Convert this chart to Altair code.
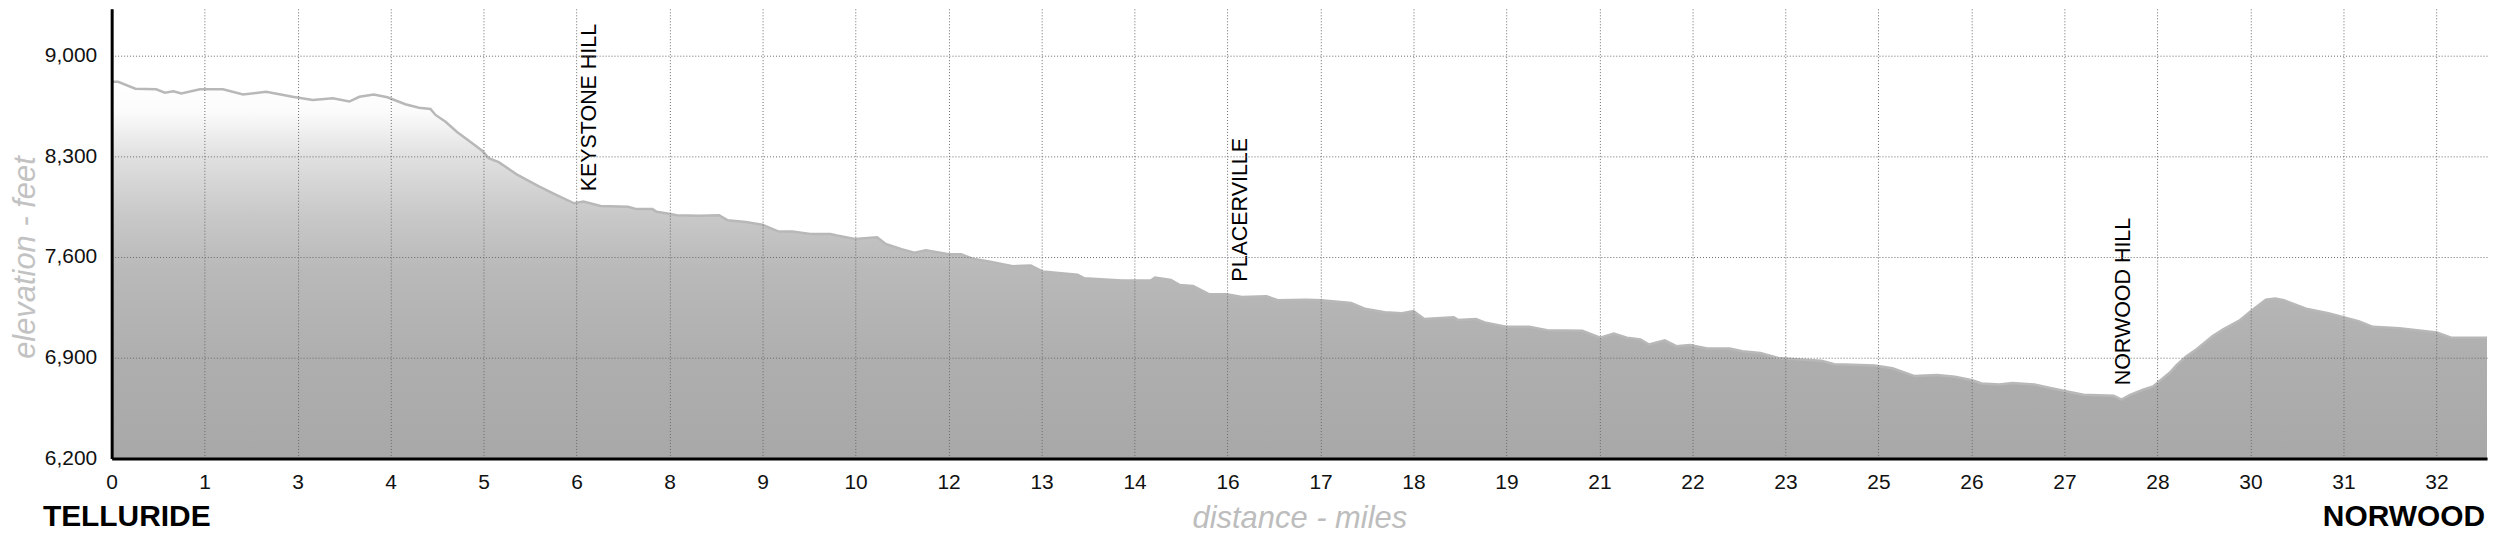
import altair as alt
import pandas as pd

# ---- profile data (miles, feet) ----
MILES = [0.00, 0.09, 0.33, 0.62, 0.74, 0.86, 0.97, 1.23, 1.55, 1.83, 2.15, 2.52, 2.80, 3.08,
         3.31, 3.45, 3.65, 3.84, 4.09, 4.28, 4.44, 4.51, 4.65, 4.81, 4.97, 5.16, 5.25, 5.39,
         5.64, 5.95, 6.19, 6.44, 6.57, 6.81, 7.19, 7.31, 7.53, 7.59, 7.74, 7.87, 8.18, 8.46,
         8.58, 8.83, 9.06, 9.29, 9.48, 9.73, 10.01, 10.10, 10.35, 10.66, 10.78, 11.00, 11.18,
         11.34, 11.66, 11.83, 11.99, 12.20, 12.55, 12.80, 12.96, 13.45, 13.54, 14.07, 14.47,
         14.53, 14.75, 14.87, 15.06, 15.28, 15.53, 15.74, 16.08, 16.24, 16.64, 16.85, 17.26,
         17.45, 17.73, 17.97, 18.13, 18.28, 18.69, 18.75, 19.00, 19.12, 19.42, 19.74, 19.99,
         20.48, 20.73, 20.92, 21.10, 21.29, 21.41, 21.63, 21.79, 21.98, 22.22, 22.53, 22.71,
         22.96, 23.21, 23.58, 23.81, 23.99, 24.24, 24.55, 24.80, 25.11, 25.42, 25.67, 25.91,
         26.04, 26.29, 26.47, 26.78, 26.90, 27.18, 27.46, 27.88, 27.99, 28.11, 28.29, 28.43,
         28.66, 28.76, 28.89, 29.04, 29.26, 29.40, 29.63, 29.79, 30.00, 30.13, 30.25, 30.56,
         30.87, 31.12, 31.30, 31.49, 31.86, 32.38, 32.58, 33.08]
ELEV = [8816, 8816, 8768, 8764, 8740, 8750, 8735, 8764, 8764, 8728, 8747, 8712, 8690, 8702,
        8679, 8712, 8728, 8709, 8660, 8636, 8627, 8586, 8539, 8468, 8409, 8338, 8286, 8258,
        8173, 8090, 8031, 7972, 7984, 7953, 7948, 7932, 7932, 7913, 7901, 7889, 7885, 7889,
        7854, 7842, 7823, 7776, 7776, 7759, 7759, 7748, 7724, 7736, 7689, 7653, 7629,
        7646, 7618, 7618, 7587, 7570, 7535, 7540, 7499, 7476, 7452, 7436, 7436,
        7456, 7440, 7405, 7398, 7341, 7341, 7322, 7327, 7299, 7303, 7299, 7280,
        7240, 7216, 7209, 7223, 7169, 7180, 7162, 7169, 7145, 7114, 7114, 7091,
        7086, 7039, 7067, 7039, 7027, 6991, 7020, 6980, 6987, 6963, 6963, 6944,
        6932, 6897, 6885, 6878, 6854, 6850, 6845, 6826, 6772, 6779, 6767, 6743,
        6720, 6713, 6724, 6713, 6700, 6670, 6642, 6635, 6608, 6642, 6677, 6700,
        6795, 6850, 6908, 6960, 7050, 7095, 7157, 7223, 7303, 7310, 7299, 7240,
        7209, 7176, 7152, 7114, 7105, 7074, 7039, 7039]

# axis ticks (evenly spaced, labelled with rounded miles)
TICK_MILES = [0, 1.295, 2.59, 3.885, 5.18, 6.475, 7.77, 9.065, 10.36, 11.655, 12.95, 14.245,
              15.54, 16.835, 18.13, 19.425, 20.72, 22.015, 23.31, 24.605, 25.9, 27.195, 28.49,
              29.785, 31.08, 32.375]
ELEV_TICKS = [6200, 6900, 7600, 8300, 9000]
ELEV_FLOOR = 6200

# landmarks
LANDMARKS = ["KEYSTONE HILL", "PLACERVILLE", "NORWOOD HILL"]
LANDMARK_MILES = [6.66, 15.73, 28.03]
LANDMARK_ELEV = [8055, 7428, 6708]

START_NAME = ["TELLURIDE"]
END_NAME = ["NORWOOD"]

FONT = "Liberation Sans"

df = pd.DataFrame({"mile": MILES, "elev": ELEV})
ann = pd.DataFrame({"label": LANDMARKS, "mile": LANDMARK_MILES, "elev": LANDMARK_ELEV})

x_scale = alt.Scale(domain=[0, 33.08], nice=False, zero=False)
y_scale = alt.Scale(domain=[6200, 9323], nice=False, zero=False)

GRID = dict(grid=True, gridColor="#6a6a6a", gridDash=[1, 2], gridWidth=1)

x_axis = alt.Axis(
    values=TICK_MILES, labelExpr="round(datum.value)", title="distance - miles",
    domainColor="#000000", domainWidth=3, ticks=False, tickSize=0,
    labelFont=FONT, labelFontSize=21, labelColor="#111111", labelPadding=13,
    labelFlush=False, labelOverlap=False,
    titleFont=FONT, titleFontSize=31, titleFontStyle="italic", titleFontWeight="normal",
    titleColor="#bdbdbd", titleY=69, titleBaseline="alphabetic", zindex=1, **GRID,
)
y_axis = alt.Axis(
    values=ELEV_TICKS, format=",d", title="elevation - feet",
    domainColor="#000000", domainWidth=3, ticks=False, tickSize=0,
    labelFont=FONT, labelFontSize=21, labelColor="#111111", labelPadding=15,
    labelOverlap=False,
    titleFont=FONT, titleFontSize=31, titleFontStyle="italic", titleFontWeight="normal",
    titleColor="#c2c2c2", titleAngle=270, titleX=-77, titleY=249, titleAlign="center",
    titleBaseline="alphabetic", zindex=1, **GRID,
)

grad = alt.Gradient(
    gradient="linear", x1=0, x2=0, y1=0, y2=1,
    stops=[
        alt.GradientStop(color="#ffffff", offset=0),
        alt.GradientStop(color="#fbfbfb", offset=0.08),
        alt.GradientStop(color="#e0e0e0", offset=0.2),
        alt.GradientStop(color="#c9c9c9", offset=0.35),
        alt.GradientStop(color="#b9b9b9", offset=0.5),
        alt.GradientStop(color="#aeaeae", offset=0.75),
        alt.GradientStop(color="#a8a8a8", offset=1),
    ],
)

base = alt.Chart(df)
area = base.mark_area(color=grad, clip=True).encode(
    x=alt.X("mile:Q", scale=x_scale, axis=x_axis),
    y=alt.Y("elev:Q", scale=y_scale, axis=y_axis),
    y2=alt.datum(ELEV_FLOOR),
)
line = base.mark_line(color="#b8b8b8", strokeWidth=2.5).encode(
    x=alt.X("mile:Q", scale=x_scale),
    y=alt.Y("elev:Q", scale=y_scale),
)
labels = alt.Chart(ann).mark_text(
    angle=270, align="left", baseline="middle", font=FONT, fontSize=21.5, color="#000000"
).encode(
    x=alt.X("mile:Q", scale=x_scale),
    y=alt.Y("elev:Q", scale=y_scale),
    text="label:N",
)
start = alt.Chart(pd.DataFrame({"t": START_NAME})).mark_text(
    align="left", baseline="alphabetic", font=FONT, fontSize=30, fontWeight="bold", color="#000000"
).encode(x=alt.value(-69), y=alt.value(519), text="t:N")
end = alt.Chart(pd.DataFrame({"t": END_NAME})).mark_text(
    align="right", baseline="alphabetic", font=FONT, fontSize=30, fontWeight="bold", color="#000000"
).encode(x=alt.value(2381), y=alt.value(519), text="t:N")

chart = alt.layer(area, line, labels, start, end).properties(
    width=2383, height=451,
    autosize=alt.AutoSizeParams(type="none"),
    padding={"left": 104, "top": 0, "right": 5, "bottom": 76},
    background="#ffffff",
).configure_view(strokeWidth=0)

chart.save("out.html", embed_options={"renderer": "svg", "actions": False})
